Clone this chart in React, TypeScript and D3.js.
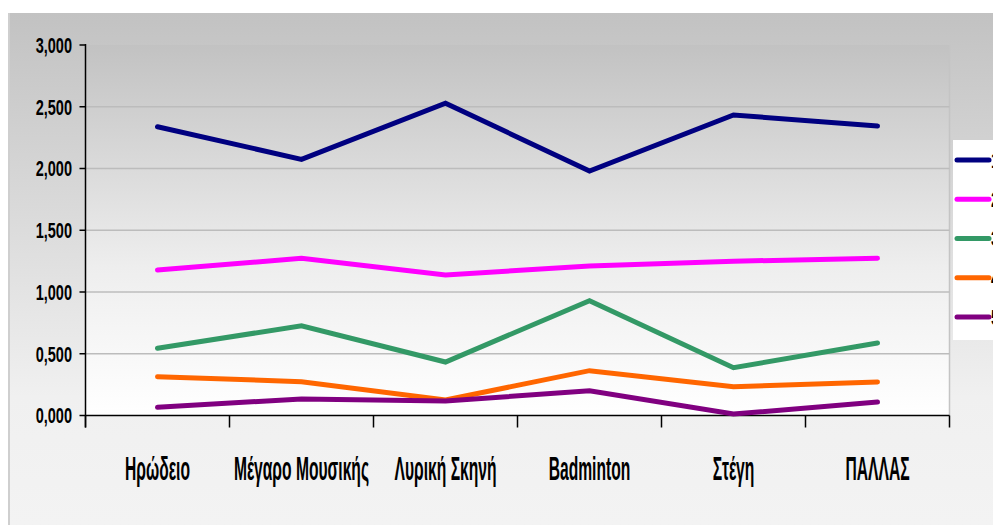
import React from "react";
import * as d3 from "d3";

const categories = ["Ηρώδειο", "Μέγαρο Μουσικής", "Λυρική Σκηνή", "Badminton", "Στέγη", "ΠΑΛΛΑΣ"];
const seriesNames = ["1ος", "2ος", "3ος", "4ος", "5ος"];
const seriesColors = ["#000080", "#FF00FF", "#339966", "#FF6600", "#800080"];
const s1 = [2.338, 2.074, 2.528, 1.98, 2.433, 2.344];
const s2 = [1.178, 1.273, 1.138, 1.21, 1.249, 1.273];
const s3 = [0.544, 0.727, 0.433, 0.93, 0.387, 0.587];
const s4 = [0.314, 0.274, 0.125, 0.363, 0.233, 0.271];
const s5 = [0.066, 0.134, 0.117, 0.201, 0.012, 0.109];
const seriesValues = [s1, s2, s3, s4, s5];
const yTicks = [0, 0.5, 1, 1.5, 2, 2.5, 3];

const W = 993;
const H = 525;
const left = 85.5;
const right = 949.5;
const top = 45;
const bottom = 415.5;

const FONT = "'Liberation Sans', Arial, sans-serif";

export default function App() {
  const x = d3.scaleBand<string>().domain(categories).range([left, right]).padding(0);
  const y = d3.scaleLinear().domain([0, 3]).range([bottom, top]);
  const fmt = (v: number) => d3.format(".3f")(v).replace(".", ",");
  const line = d3
    .line<number>()
    .x((_, i) => (x(categories[i]) as number) + x.bandwidth() / 2)
    .y((d) => y(d));
  const boundaries = d3.range(categories.length + 1).map((i) => left + i * x.bandwidth());
  const legendY = d3.scaleLinear().domain([0, 4]).range([160, 317]);

  return (
    <svg
      width={W}
      height={H}
      style={{ position: "absolute", left: 0, top: 0, background: "#fff" }}
      fontFamily={FONT}
    >
      <defs>
        <linearGradient id="outerG" x1="0" y1="0" x2="0" y2="1">
          <stop offset="0" stopColor="#c2c2c2" />
          <stop offset="0.75" stopColor="#f0f0f0" />
          <stop offset="1" stopColor="#f3f3f3" />
        </linearGradient>
        <linearGradient id="plotG" x1="0" y1="0" x2="0" y2="1">
          <stop offset="0" stopColor="#c2c2c2" />
          <stop offset="0.6" stopColor="#eeeeee" />
          <stop offset="1" stopColor="#ffffff" />
        </linearGradient>
      </defs>
      <rect x={8} y={13} width={W - 8} height={H - 13} fill="url(#outerG)" />
      <line x1={9} y1={13} x2={9} y2={H} stroke="#cfcfcf" strokeWidth={2} />
      <rect x={left} y={top} width={right - left} height={bottom - top} fill="url(#plotG)" />
      <line x1={right} y1={top} x2={right} y2={bottom} stroke="#c4c4c4" strokeWidth={1.5} />
      {yTicks.slice(1, -1).map((t) => (
        <line key={t} x1={left} x2={right} y1={y(t)} y2={y(t)} stroke="#bcbcbc" strokeWidth={1.5} />
      ))}

      {/* axes */}
      <line x1={left} y1={top - 1} x2={left} y2={bottom + 12} stroke="#000" strokeWidth={1.5} />
      <line x1={left} y1={bottom} x2={right} y2={bottom} stroke="#000" strokeWidth={1.5} />
      {yTicks.map((t) => (
        <line key={"yt" + t} x1={left - 6} x2={left} y1={y(t)} y2={y(t)} stroke="#000" strokeWidth={1.5} />
      ))}
      {boundaries.map((b, i) => (
        <line key={"xt" + i} x1={b} x2={b} y1={bottom} y2={bottom + 12} stroke="#000" strokeWidth={1.5} />
      ))}
      {yTicks.map((t) => (
        <g key={"yl" + t} transform={`translate(72,${y(t)}) scale(0.66,1)`}>
          <text textAnchor="end" dy="0.36em" fontSize={22} fontWeight="bold" fill="#000">
            {fmt(t)}
          </text>
        </g>
      ))}
      {categories.map((c) => (
        <g key={c} transform={`translate(${(x(c) as number) + x.bandwidth() / 2},480) scale(0.46,1)`}>
          <text textAnchor="middle" fontSize={34} fontWeight="bold" fill="#000">
            {c}
          </text>
        </g>
      ))}

      {/* series */}
      {seriesValues.map((vals, i) => (
        <path
          key={i}
          d={line(vals) as string}
          fill="none"
          stroke={seriesColors[i]}
          strokeWidth={5}
          strokeLinecap="round"
          strokeLinejoin="miter"
        />
      ))}

      {/* legend */}
      <rect x={953} y={140} width={W - 953} height={200} fill="#fff" />
      {seriesNames.map((n, i) => (
        <g key={n}>
          <line x1={957} x2={989} y1={legendY(i)} y2={legendY(i)} stroke={seriesColors[i]} strokeWidth={5} strokeLinecap="round" />
          <g transform={`translate(991,${legendY(i)}) scale(0.66,1)`}>
            <text dy="0.36em" fontSize={22} fontWeight="bold" fill="#000">
              {n}
            </text>
          </g>
        </g>
      ))}
    </svg>
  );
}
